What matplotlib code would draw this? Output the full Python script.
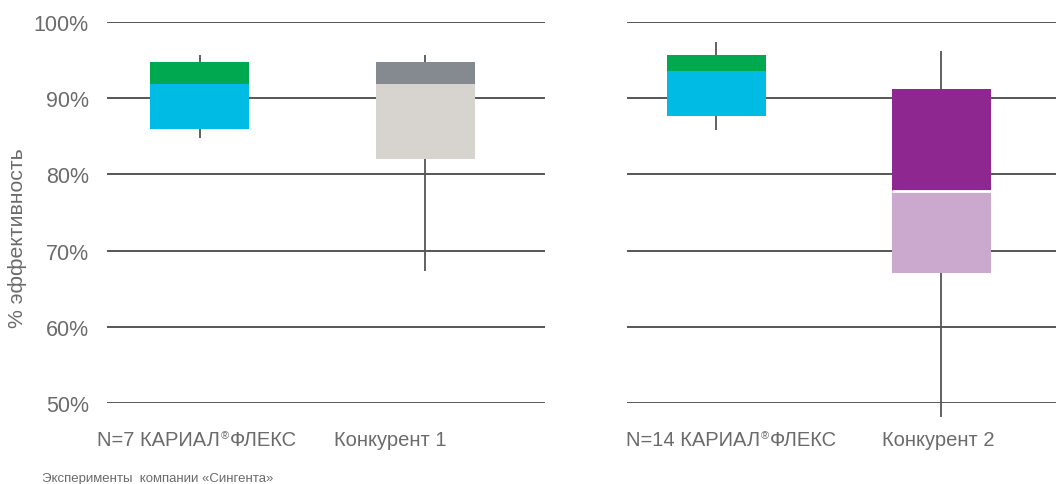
import matplotlib
matplotlib.use("Agg")
import matplotlib.pyplot as plt

plt.rcParams['font.family'] = ['Liberation Sans', 'DejaVu Sans']

# data (percent efficacy)
labels_left = [("N=7 КАРИАЛ", "®", "ФЛЕКС"), ("Конкурент 1",)]
labels_right = [("N=14 КАРИАЛ", "®", "ФЛЕКС"), ("Конкурент 2",)]
box_low = [86.0, 82.05, 87.65, 67.05]
box_mid = [91.9, 91.9, 93.55, 77.85]
box_high = [94.75, 94.75, 95.65, 91.2]
whisk_low = [84.8, 67.3, 85.8, 48.2]
whisk_high = [95.7, 95.7, 97.4, 96.2]
col_low = ['#00BCE4', '#D7D3CF', '#00BCE4', '#CBA9CF']
col_high = ['#00A84F', '#858A91', '#00A84F', '#8E278F']
yticks = [50, 60, 70, 80, 90, 100]

TXT = '#6b6b6b'
GRID = '#3a3a3a'
W = 0.44
FS = 14.5

fig = plt.figure(figsize=(10.56, 4.85), dpi=100)
ax1 = fig.add_axes([107 / 1056, 1 - 404 / 485, 438 / 1056, 381 / 485])
ax2 = fig.add_axes([627 / 1056, 1 - 404 / 485, 429 / 1056, 381 / 485])

# label anchors: (x of left edge for brand label, x of centre for competitor)
panels = [
    (ax1, [0, 1], labels_left, (0.587, 2.533), [0.543, 1.845]),
    (ax2, [2, 3], labels_right, (0.604, 2.511), [0.600, 1.986]),
]


def brand_label(ax, x, y, parts):
    t1 = ax.text(x, y, parts[0], transform=ax.get_xaxis_transform(),
                 ha='left', va='baseline', fontsize=FS, color=TXT)
    t2 = ax.annotate(parts[1], xy=(1, 0), xycoords=t1, xytext=(0.5, 6),
                     textcoords='offset points', ha='left', va='bottom',
                     fontsize=8, color=TXT)
    ax.annotate(parts[2], xy=(1, 0), xycoords=(t2, t1), xytext=(0.5, 0),
                textcoords='offset points', ha='left', va='bottom',
                fontsize=FS, color=TXT)


for ax, idx, labs, xl, labpos in panels:
    for k, i in enumerate(idx):
        x = k + 1
        ax.vlines(x, whisk_low[i], whisk_high[i], color='#555555', lw=1.3,
                  zorder=2, clip_on=False)
        ax.bar(x, box_mid[i] - box_low[i], bottom=box_low[i], width=W,
               color=col_low[i], zorder=3)
        ax.bar(x, box_high[i] - box_mid[i], bottom=box_mid[i], width=W,
               color=col_high[i], zorder=3)
        if i == 3:
            # thin white gap between the two parts
            ax.hlines(box_mid[i], x - W / 2, x + W / 2, color='white', lw=2,
                      zorder=4)
    ax.set_xlim(*xl)
    ax.set_ylim(50, 100)
    ax.set_yticks(yticks)
    ax.set_xticks([])
    ax.yaxis.grid(True, color=GRID, lw=1.2)
    ax.set_axisbelow(True)
    for s in ax.spines.values():
        s.set_visible(False)
    ax.tick_params(axis='both', length=0)

    brand_label(ax, labpos[0], -0.110, labs[0])
    ax.text(labpos[1], -0.110, labs[1][0], transform=ax.get_xaxis_transform(),
            ha='center', va='baseline', fontsize=FS, color=TXT)

ax1.set_yticklabels([f"{v}%" for v in yticks], fontsize=15.5, color=TXT)
ax1.tick_params(axis='y', pad=13)
ax2.set_yticklabels([])

fig.text(18 / 1056, 1 - 238 / 485, "% эффективность", rotation=90,
         ha='center', va='center', fontsize=15.3, color=TXT)
fig.text(42 / 1056, 1 - 479 / 485, "Эксперименты  компании «Сингента»",
         ha='left', va='center', fontsize=9.5, color=TXT)

fig.savefig("out.png", dpi=100)
